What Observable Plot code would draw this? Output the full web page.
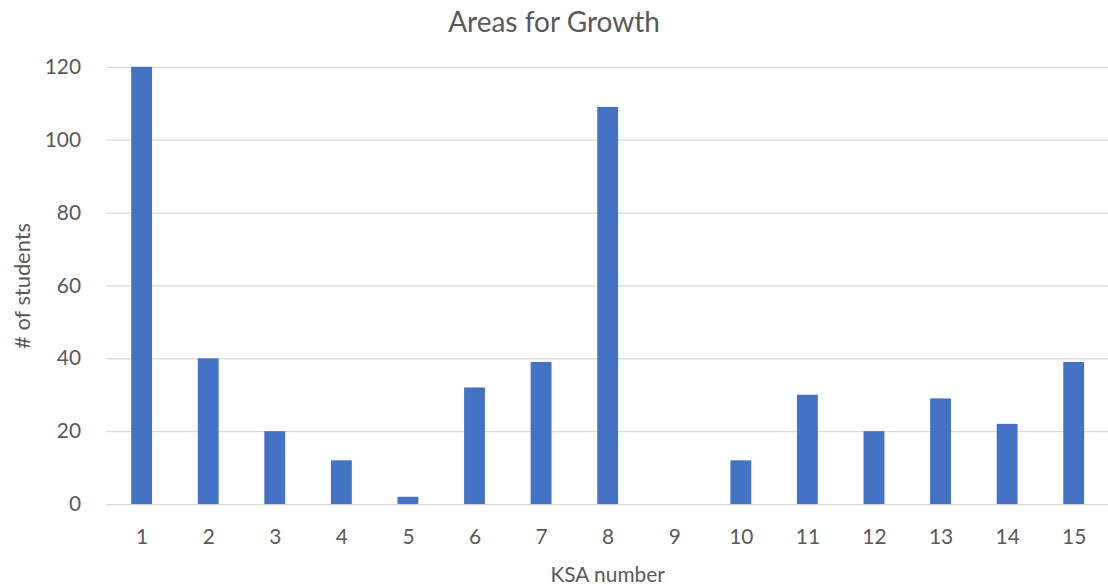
<!DOCTYPE html>
<html>
<head>
<meta charset="utf-8">
<script src="https://cdn.jsdelivr.net/npm/d3@7"></script>
<script src="https://cdn.jsdelivr.net/npm/@observablehq/plot@0.6"></script>
<style>
  html, body { margin: 0; padding: 0; background: #fff; overflow: hidden; }
  #title { height: 40px; line-height: 42px; text-align: center; font-family: Lato, sans-serif; font-size: 28px; color: #595959; width: 1108px; }
  svg { display: block; }
</style>
</head>
<body>
<div id="title">Areas for Growth</div>
<div id="chart"></div>
<script>
const ksa = ["1","2","3","4","5","6","7","8","9","10","11","12","13","14","15"];
const students = [120, 40, 20, 12, 2, 32, 39, 109, 0, 12, 30, 20, 29, 22, 39];
const yTicks = [0, 20, 40, 60, 80, 100, 120];
const xTitle = "KSA number";
const yTitle = "# of students";

const data = ksa.map((k, i) => ({ksa: k, value: students[i]}));

const chart = Plot.plot({
  width: 1115,
  height: 548,
  marginLeft: 107,
  marginRight: 0,
  marginTop: 27,
  marginBottom: 81,
  style: { fontFamily: "Lato, sans-serif", fontSize: "21px", color: "#595959", background: "#fff" },
  x: { domain: ksa, paddingInner: 0.69, paddingOuter: 0.345, label: null, tickSize: 0, tickPadding: 25 },
  y: { domain: [0, 120], ticks: yTicks, label: null, tickSize: 0, tickPadding: 26 },
  marks: [
    Plot.gridY(yTicks, { stroke: "#D9D9D9", strokeOpacity: 1, strokeWidth: 1.3 }),
    Plot.barY(data, { x: "ksa", y: "value", fill: "#4472C4" }),
    Plot.text([xTitle], { frameAnchor: "bottom", lineAnchor: "middle", textAnchor: "middle", dy: 71, fontSize: 21, fill: "#595959" }),
    Plot.text([yTitle], { frameAnchor: "left", textAnchor: "middle", lineAnchor: "middle", dx: -84.5, dy: 0, rotate: -90, fontSize: 22, fill: "#595959" })
  ]
});
document.getElementById("chart").appendChild(chart);
</script>
</body>
</html>
